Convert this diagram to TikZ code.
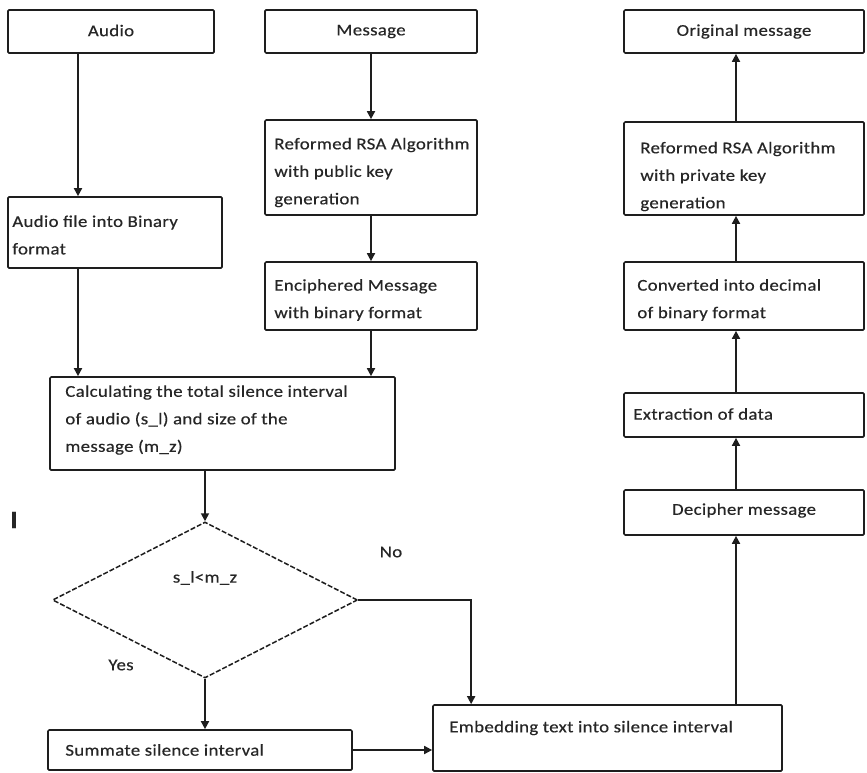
\documentclass[tikz,border=0pt]{standalone}
\usepackage{fontspec}
\setmainfont[FakeStretch=1.14,LetterSpace=2,FakeBold=0.4]{Carlito}
\usetikzlibrary{arrows.meta,shapes.geometric,calc}
\definecolor{ink}{HTML}{1E1E1E}
\definecolor{txtc}{HTML}{262626}
\tikzset{
  box/.style={draw=ink, line width=1.7pt, rounded corners=1.2pt, inner sep=0pt, minimum width=#1},
  box/.default=240pt,
  txt/.style={text=txtc, inner sep=0pt, align=left, font=\fontsize{16.5}{27.5}\selectfont},
  arr/.style={draw=ink, line width=1.7pt, -{Triangle[length=8pt,width=8pt]}},
  decision/.style={draw=ink, line width=1.5pt, diamond, dash pattern=on 5pt off 2pt, inner sep=0pt, minimum width=305pt, minimum height=156pt}
}
\begin{document}
\begin{tikzpicture}[x=1pt,y=-1pt]
\useasboundingbox[fill=white] (0,0) rectangle (867,773);

% top row
\node[box=206pt, minimum height=43pt] (audio) at (111,31.5) {};
\node[txt] (audioT) at ([yshift=1pt]audio.center) {Audio};
\node[box=212pt, minimum height=43pt] (msg) at (371,31.5) {};
\node[txt] (msgT) at (msg.center) {Message};
\node[box=240pt, minimum height=43pt] (orig) at (744,31.5) {};
\node[txt] (origT) at (orig.center) {Original message};

% encryption side
\node[box=212pt, minimum height=95pt] (pub) at (371,167.5) {};
\node[txt, anchor=west] (pubT) at ([xshift=10pt,yshift=-5pt]pub.west) {Reformed RSA Algorithm\\with public key\\generation};
\node[box=214pt, minimum height=71pt] (bin) at (115,232.5) {};
\node[txt, anchor=west] (binT) at ([xshift=5pt,yshift=-2.5pt]bin.west) {Audio file into Binary\\format};
\node[box=212pt, minimum height=68pt] (enc) at (371,296) {};
\node[txt, anchor=west] (encT) at ([xshift=10pt,yshift=-4pt]enc.west) {Enciphered Message\\with binary format};
\node[box=345pt, minimum height=93pt] (calc) at (222.5,423.5) {};
\node[txt, anchor=west] (calcT) at ([xshift=16pt,yshift=3.5pt]calc.west) {Calculating the total\ silence interval\\of audio (s\_l) and size of the\\message (m\_z)};

% decision
\node[decision] (dec) at (205,600) {};
\node[txt] (decT) at (205,578) {s\_l<m\_z};
\node[txt] (noT) at (391,552) {No};
\node[txt] (yesT) at (121,665) {Yes};
\node[text=txtc, inner sep=0pt, font=\fontsize{25}{30}\selectfont\bfseries] (markI) at (14,520) {I};

\node[box=304pt, minimum height=40pt] (sum) at (200,750) {};
\node[txt, anchor=west] (sumT) at ([xshift=18pt]sum.west) {Summate silence interval};
\node[box=349pt, minimum height=66pt] (embed) at (607.5,738) {};
\node[txt, anchor=west] (embedT) at ([xshift=17pt,yshift=10pt]embed.west) {Embedding text into silence interval};

% decryption side
\node[box, minimum height=45pt] (dcph) at (744,512.5) {};
\node[txt] (dcphT) at ([yshift=2pt]dcph.center) {Decipher message};
\node[box, minimum height=44pt] (extr) at (744,415) {};
\node[txt, anchor=west] (extrT) at ([xshift=10pt,yshift=1pt]extr.west) {Extraction of data};
\node[box, minimum height=68pt] (conv) at (744,296) {};
\node[txt, anchor=west] (convT) at ([xshift=14pt,yshift=-4pt]conv.west) {Converted into decimal\\of binary format};
\node[box, minimum height=93pt] (priv) at (744,168.5) {};
\node[txt, anchor=west] (privT) at ([xshift=17pt,yshift=-8pt]priv.west) {Reformed RSA Algorithm\\with private key\\generation};

% connectors
\draw[arr] ([xshift=-33pt]audio.south) -- ([xshift=-33pt]audio.south |- bin.north);
\draw[arr] (msg.south) -- (pub.north);
\draw[arr] (pub.south) -- (enc.north);
\draw[arr] ([xshift=-37pt]bin.south) -- ([xshift=-37pt]bin.south |- calc.north);
\draw[arr] (enc.south) -- (enc.south |- calc.north);
\draw[arr] (dec.north |- calc.south) -- (dec.north);
\draw[arr] (dec.east) -| ([xshift=39pt]embed.north west);
\draw[arr] (dec.south) -- (dec.south |- sum.north);
\draw[arr] (sum.east) -- (sum.east -| embed.west);
\draw[arr] ([xshift=-8pt]dcph.south |- embed.north) -- ([xshift=-8pt]dcph.south);
\draw[arr] ([xshift=-8pt]dcph.north) -- ([xshift=-8pt]extr.south);
\draw[arr] ([xshift=-8pt]extr.north) -- ([xshift=-8pt]conv.south);
\draw[arr] ([xshift=-8pt]conv.north) -- ([xshift=-8pt]priv.south);
\draw[arr] ([xshift=-8pt]priv.north) -- ([xshift=-8pt]orig.south);
\end{tikzpicture}
\end{document}
